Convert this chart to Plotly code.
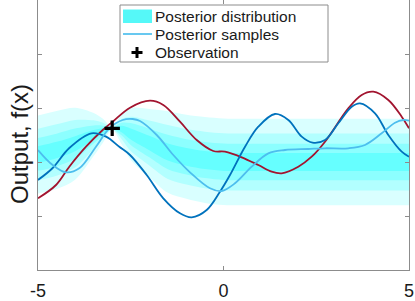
import plotly.graph_objects as go

# ---------------- data ----------------
band_x = [-5, -4.5, -4, -3.5, -3.25, -3, -2.75, -2.5, -2, -1.5, -1, -0.5,
          0, 0.5, 1, 1.5, 2, 2.5, 3, 3.5, 4, 4.5, 5]
band_mean = [0.139, 0.222, 0.339, 0.509, 0.580, 0.620, 0.611, 0.519, 0.352,
             0.185, 0.096, 0.037, 0.004, 0.0, 0.0, 0.0, 0.0, 0.0, 0.0, 0.0,
             0.0, 0.0, 0.0]
band_half = [0.722, 0.722, 0.667, 0.398, 0.222, 0.028, 0.278, 0.481, 0.630,
             0.756, 0.778, 0.796, 0.802, 0.80, 0.80, 0.80, 0.80, 0.80, 0.80,
             0.80, 0.80, 0.80, 0.80]
band_levels = [1.0, 0.66, 0.42, 0.21]
band_colors = ["rgb(217,255,255)", "rgb(178,255,255)", "rgb(140,255,255)",
               "rgb(102,255,255)"]

red_x = [-5.0, -4.515, -4.156, -3.706, -3.256, -2.987, -2.520, -1.981, -1.623,
         -1.173, -0.722, -0.275, 0.040, 0.491, 0.938, 1.299, 1.569, 2.016,
         2.377, 2.736, 3.364, 3.725, 4.038, 4.442, 4.803, 5.0]
red_y = [-0.672, -0.426, -0.087, 0.283, 0.593, 0.746, 1.006, 1.135, 1.056,
         0.746, 0.407, 0.204, 0.191, 0.087, -0.056, -0.180, -0.209, -0.087,
         0.098, 0.376, 0.994, 1.241, 1.302, 1.148, 0.839, 0.624]

dark_x = [-5.0, -4.604, -4.156, -3.560, -3.167, -2.809, -2.520, -2.070,
          -1.623, -1.173, -0.857, -0.453, -0.094, 0.175, 0.580, 0.938,
          1.388, 1.747, 2.108, 2.400, 2.736, 3.094, 3.456, 3.679, 4.084, 4.442,
          4.803, 5.0]
dark_y = [-0.333, -0.111, 0.259, 0.531, 0.469, 0.283, 0.130, -0.241,
          -0.672, -0.950, -1.024, -0.889, -0.550, -0.241, 0.283, 0.654,
          0.889, 0.778, 0.469, 0.357, 0.407, 0.717, 1.024, 1.087, 0.902, 0.500,
          0.191, 0.098]

light_x = [-5.0, -4.604, -4.245, -3.887, -3.437, -3.078, -2.717, -2.447, -2.251,
           -1.800, -1.353, -0.903, -0.364, -0.049, 0.310, 0.760, 1.208, 1.658,
           2.286, 2.736, 3.364, 3.814, 4.264, 4.623, 4.846, 5.0]
light_y = [0.222, -0.056, -0.191, -0.117, 0.283, 0.624, 0.778, 0.796, 0.759,
           0.500, 0.130, -0.191, -0.487, -0.537, -0.394, -0.087, 0.161, 0.222,
           0.241, 0.254, 0.254, 0.315, 0.531, 0.728, 0.778, 0.765]

obs_x = [-3.0]
obs_y = [0.624]

x_ticks = [-5, 0, 5]
x_tick_text = ["-5", "0", "5"]
y_ticks = [-1, 0, 1, 2]

legend_labels = ["Posterior distribution", "Posterior samples", "Observation"]

FONT = "Liberation Sans, Arial, Helvetica, sans-serif"
INK = "#1a1a1a"
AXC = "#8c8c8c"

# plot-area geometry in pixels (used for the hand-drawn legend)
W, H = 415, 301
ML, MR, MT, MB = 38, 6, 0, 31
PW, PH = W - ML - MR, H - MT - MB


def px(xp):
    return (xp - ML) / PW


def py(yp):
    return (MT + PH - yp) / PH


fig = go.Figure()

# posterior bands (outer -> inner)
for lvl, col in zip(band_levels, band_colors):
    lower = [m - lvl * h for m, h in zip(band_mean, band_half)]
    upper = [m + lvl * h for m, h in zip(band_mean, band_half)]
    fig.add_trace(go.Scatter(x=band_x, y=lower, mode="lines",
                             line=dict(width=0, shape="spline", smoothing=0.9),
                             showlegend=False, hoverinfo="skip"))
    fig.add_trace(go.Scatter(x=band_x, y=upper, mode="lines", fill="tonexty",
                             fillcolor=col,
                             line=dict(width=0, shape="spline", smoothing=0.9),
                             showlegend=False, hoverinfo="skip"))

LW = 1.8
fig.add_trace(go.Scatter(x=red_x, y=red_y, mode="lines",
                         line=dict(color="#A2142F", width=LW, shape="spline"),
                         showlegend=False))
fig.add_trace(go.Scatter(x=dark_x, y=dark_y, mode="lines",
                         line=dict(color="#0072BD", width=LW, shape="spline"),
                         showlegend=False))
fig.add_trace(go.Scatter(x=light_x, y=light_y, mode="lines",
                         line=dict(color="#4DBEEE", width=LW, shape="spline"),
                         showlegend=False))
fig.add_trace(go.Scatter(x=obs_x, y=obs_y, mode="markers",
                         marker=dict(symbol="cross-thin", size=11,
                                     line=dict(color="black", width=3.2)),
                         showlegend=False))

# ---- legend drawn by hand (box, glyphs, labels) ----
shapes = [
    dict(type="rect", xref="paper", yref="paper", layer="above",
         x0=px(120), x1=px(328), y0=py(62), y1=py(5),
         fillcolor="white", line=dict(color=AXC, width=1)),
    dict(type="rect", xref="paper", yref="paper", layer="above",
         x0=px(123), x1=px(152), y0=py(23), y1=py(9.5),
         fillcolor="rgb(85,248,248)", line=dict(width=0)),
    dict(type="line", xref="paper", yref="paper", layer="above",
         x0=px(123), x1=px(152), y0=py(34), y1=py(34),
         line=dict(color="#4DBEEE", width=1.7)),
    dict(type="line", xref="paper", yref="paper", layer="above",
         x0=px(131.5), x1=px(142.5), y0=py(52.5), y1=py(52.5),
         line=dict(color="black", width=3)),
    dict(type="line", xref="paper", yref="paper", layer="above",
         x0=px(137), x1=px(137), y0=py(47), y1=py(58),
         line=dict(color="black", width=3)),
]
annotations = [
    dict(text=lab, showarrow=False, xref="paper", yref="paper",
         x=px(152.5), y=py(yc), xanchor="left", yanchor="middle",
         font=dict(size=15.5, family=FONT, color=INK))
    for lab, yc in zip(legend_labels, [16.5, 34.5, 52.5])
]
annotations.append(dict(text="Output, f(x)", textangle=-90, showarrow=False,
                        xref="paper", yref="paper", x=px(19), y=py(144),
                        xanchor="center", yanchor="middle",
                        font=dict(size=24, family=FONT, color=INK)))

axis_common = dict(showline=True, linecolor=AXC, linewidth=1,
                   mirror="ticks", ticks="inside", ticklen=4,
                   tickcolor=AXC, showgrid=False, zeroline=False,
                   automargin=False)

fig.update_layout(
    width=W, height=H,
    margin=dict(l=ML, r=MR, t=MT, b=MB, autoexpand=False),
    paper_bgcolor="white", plot_bgcolor="white",
    font=dict(family=FONT, color=INK),
    showlegend=False,
    xaxis=dict(range=[-5, 5], tickvals=x_ticks, ticktext=x_tick_text,
               tickfont=dict(size=18, family=FONT, color=INK),
               ticklabelstandoff=4,
               **axis_common),
    yaxis=dict(range=[-2, 3], tickvals=y_ticks, showticklabels=False,
               **axis_common),
    shapes=shapes,
    annotations=annotations,
)

fig.write_html(
    "out.html",
    config={"displayModeBar": False},
    post_script="document.body.style.margin='0px';"
                "document.body.style.overflow='hidden';",
)
